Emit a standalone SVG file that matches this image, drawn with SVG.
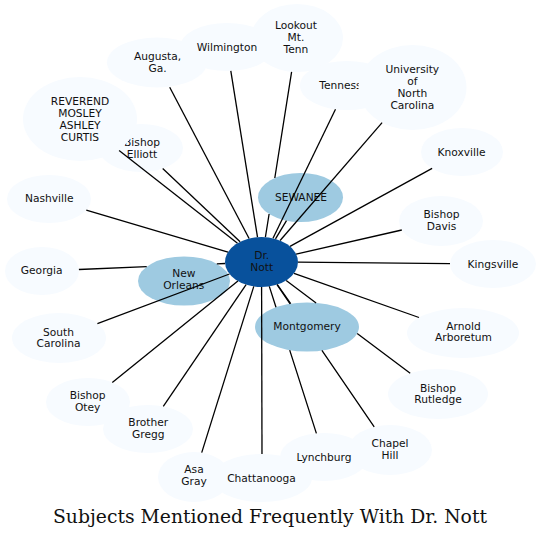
<svg xmlns="http://www.w3.org/2000/svg" width="541" height="539" viewBox="0 0 541 539">
<style>
.light{fill:#f7fbff;stroke:none}
.mid{fill:#9ecae1;stroke:none}
.dark{fill:#08519c;stroke:none}
text{font-family:"DejaVu Sans","Noto Sans",sans-serif;font-size:10.67px;text-anchor:middle;fill:#111}
.title{font-family:"DejaVu Serif","Liberation Serif",serif;font-size:18.5px;fill:#111}
#edges path{fill:none;stroke:#000;stroke-width:1.3}
</style>
<rect width="541" height="539" fill="#fff"/>
<g id="nodes">
<g id="n-elliott"><ellipse class="light" cx="141" cy="148" rx="42" ry="24"/><text x="142" y="145.7">Bishop</text><text x="142" y="157.5">Elliott</text></g>
<g id="n-reverend"><ellipse class="light" cx="80" cy="119" rx="57" ry="42"/><text x="80" y="104.7">REVEREND</text><text x="80" y="116.7">MOSLEY</text><text x="80" y="128.7">ASHLEY</text><text x="80" y="140.7">CURTIS</text></g>
<g id="n-augusta"><ellipse class="light" cx="157" cy="62.5" rx="50" ry="25"/><text x="157.5" y="59.7">Augusta,</text><text x="157.5" y="71.7">Ga.</text></g>
<g id="n-lookout"><ellipse class="light" cx="297" cy="38" rx="46" ry="34"/><text x="296" y="29">Lookout</text><text x="296" y="41">Mt.</text><text x="296" y="53">Tenn</text></g>
<g id="n-wilmington"><ellipse class="light" cx="227" cy="47" rx="47" ry="24"/><text x="227" y="50.7">Wilmington</text></g>
<g id="n-tennessee"><ellipse class="light" cx="347" cy="85.5" rx="47" ry="24.5"/><text x="347" y="88.8">Tennessee</text></g>
<g id="n-unc"><ellipse class="light" cx="412.5" cy="87.5" rx="54" ry="42.5"/><text x="412.3" y="73">University</text><text x="412.3" y="85">of</text><text x="412.3" y="97">North</text><text x="412.3" y="109">Carolina</text></g>
<g id="n-knoxville"><ellipse class="light" cx="462" cy="152" rx="41" ry="24"/><text x="461.5" y="155.5">Knoxville</text></g>
<g id="n-davis"><ellipse class="light" cx="441" cy="221" rx="42" ry="25"/><text x="441.5" y="217.8">Bishop</text><text x="441.5" y="229.8">Davis</text></g>
<g id="n-kingsville"><ellipse class="light" cx="493" cy="264" rx="43" ry="24"/><text x="493" y="267.5">Kingsville</text></g>
<g id="n-arnold"><ellipse class="light" cx="463" cy="333" rx="56" ry="25"/><text x="463.5" y="329.5">Arnold</text><text x="463.5" y="341.3">Arboretum</text></g>
<g id="n-rutledge"><ellipse class="light" cx="438" cy="394" rx="50" ry="25"/><text x="438" y="391.5">Bishop</text><text x="438" y="403.3">Rutledge</text></g>
<g id="n-chapelhill"><ellipse class="light" cx="390" cy="450" rx="42" ry="25"/><text x="390" y="446.8">Chapel</text><text x="390" y="458.5">Hill</text></g>
<g id="n-asagray"><ellipse class="light" cx="194" cy="477" rx="36" ry="25"/><text x="194" y="473.3">Asa</text><text x="194" y="485.2">Gray</text></g>
<g id="n-chattanooga"><ellipse class="light" cx="262" cy="478" rx="50" ry="24"/><text x="261.5" y="481.7">Chattanooga</text></g>
<g id="n-lynchburg"><ellipse class="light" cx="324" cy="457" rx="44" ry="24"/><text x="324" y="460.7">Lynchburg</text></g>
<g id="n-gregg"><ellipse class="light" cx="148" cy="429" rx="45" ry="24"/><text x="148.3" y="426">Brother</text><text x="148.3" y="437.8">Gregg</text></g>
<g id="n-otey"><ellipse class="light" cx="88" cy="402" rx="42" ry="24"/><text x="87.7" y="399.3">Bishop</text><text x="87.7" y="411">Otey</text></g>
<g id="n-southcarolina"><ellipse class="light" cx="59" cy="338" rx="47" ry="25"/><text x="58.5" y="335.5">South</text><text x="58.5" y="347.3">Carolina</text></g>
<g id="n-georgia"><ellipse class="light" cx="42" cy="271" rx="37" ry="24"/><text x="41.7" y="273.5">Georgia</text></g>
<g id="n-nashville"><ellipse class="light" cx="49" cy="199" rx="42" ry="24"/><text x="49.2" y="202.3">Nashville</text></g>
<g id="n-neworleans"><ellipse class="mid" cx="184" cy="281" rx="46" ry="24.5"/><text x="183.8" y="277.3">New</text><text x="183.8" y="289">Orleans</text></g>
<g id="n-sewanee"><ellipse class="mid" cx="300.5" cy="197.5" rx="42.5" ry="24.5"/><text x="301" y="200.6">SEWANEE</text></g>
<g id="n-montgomery"><ellipse class="mid" cx="307" cy="327" rx="52" ry="24.5"/><text x="307" y="330.3">Montgomery</text></g>
<g id="n-drnott"><ellipse class="dark" cx="261.5" cy="262" rx="36.5" ry="25"/><text x="261.7" y="258.5">Dr.</text><text x="261.7" y="270.5">Nott</text></g>
</g>
<g id="edges">
<path id="e-reverend" d="M237.5,243.2L119.1,150.6"/>
<path id="e-elliott" d="M240.1,241.8L162.7,168.5"/>
<path id="e-augusta" d="M249.1,238.5L169.7,87.2"/>
<path id="e-wilmington" d="M257.5,237.2L230.8,70.9"/>
<path id="e-lookout" d="M265.4,237.1L269.1,214.0M274.8,178.0L291.6,71.8"/>
<path id="e-tennessee" d="M273.0,238.3L335.5,109.3"/>
<path id="e-unc" d="M280.1,240.5L382.1,122.6"/>
<path id="e-knoxville" d="M290.0,246.4L432.1,168.4"/>
<path id="e-davis" d="M296.1,254.1L401.8,230.0"/>
<path id="e-kingsville" d="M298,262.2L450,263.6"/>
<path id="e-arnold" d="M294.0,273.4L419.0,317.5"/>
<path id="e-rutledge" d="M286.2,280.4L316.1,302.9M357.2,333.5L410.2,373.2"/>
<path id="e-chapelhill" d="M277.0,284.6L290.1,303.9M321.9,350.4L374.2,426.8"/>
<path id="e-lynchburg" d="M269.3,286.4L276.0,307.3M289.7,350.1L316.4,433.4"/>
<path id="e-chattanooga" d="M261.6,287L262,454"/>
<path id="e-asagray" d="M253.8,286.4L201.7,452.6"/>
<path id="e-gregg" d="M246.1,284.7L163.3,406.4"/>
<path id="e-otey" d="M237.9,281.1L112.3,382.4"/>
<path id="e-southcarolina" d="M229.5,274.0L97.4,323.6"/>
<path id="e-georgia" d="M225.1,263.5L216.8,263.8M146.7,266.7L78.9,269.5"/>
<path id="e-nashville" d="M228.0,252.1L86.3,210.1"/>
<path id="e-sewanee" d="M275.5,238.9L286.5,220.6"/>
<path id="e-montgomery" d="M277.3,284.5L290.7,303.7"/>
</g>
<text class="title" x="270" y="523" textLength="434" lengthAdjust="spacingAndGlyphs">Subjects Mentioned Frequently With Dr. Nott</text>
</svg>
